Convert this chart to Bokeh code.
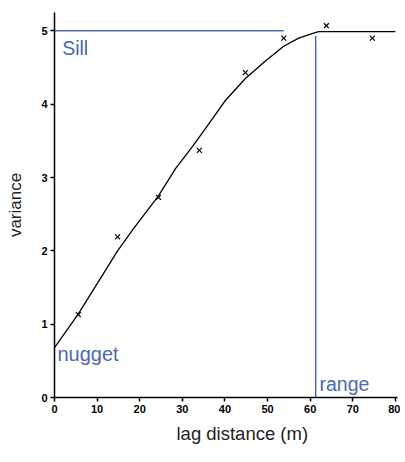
from bokeh.plotting import figure
from bokeh.models import Label, FixedTicker, Title
from bokeh.embed import file_html
from bokeh.resources import INLINE

# experimental semivariogram points
lag_pts = [5.6, 14.8, 24.4, 34.0, 44.8, 53.8, 63.8, 74.6]
var_pts = [1.13, 2.19, 2.73, 3.37, 4.43, 4.90, 5.07, 4.90]

# fitted model curve
model_lag = [0, 5.6, 14.8, 18.5, 24.4, 28.4, 32.5, 37.3, 40.1, 44.8, 49.5, 53.8, 57.3, 60.8, 62.0, 80.0]
model_var = [0.68, 1.14, 2.00, 2.30, 2.75, 3.12, 3.43, 3.82, 4.05, 4.35, 4.59, 4.79, 4.90, 4.97, 4.99, 4.99]

sill = 5.0
sill_end = 53.8
range_lag = 61.3
range_top = 4.93

x_ticks = [0, 10, 20, 30, 40, 50, 60, 70, 80]
y_ticks = [0, 1, 2, 3, 4, 5]

BLUE = "#4b67b8"

p = figure(width=400, height=454, x_range=(0, 80.5), y_range=(0, 5.25),
           output_backend="svg", toolbar_location=None,
           min_border_left=54, min_border_right=3, min_border_top=12, min_border_bottom=57)
p.grid.visible = False
p.outline_line_color = None
p.background_fill_color = "white"
p.border_fill_color = "white"

for ax, ticks in ((p.xaxis, x_ticks), (p.yaxis, y_ticks)):
    ax.ticker = FixedTicker(ticks=ticks)
    ax.axis_line_color = "black"
    ax.axis_line_width = 1.5
    ax.major_tick_line_color = "black"
    ax.major_tick_line_width = 1.5
    ax.major_tick_out = 4
    ax.major_tick_in = 0
    ax.minor_tick_line_color = None
    ax.major_label_text_font = "Liberation Sans"
    ax.major_label_text_font_style = "bold"
    ax.major_label_text_font_size = "11px"
    ax.major_label_text_color = "black"
    ax.major_label_standoff = 3

p.yaxis.axis_label = "variance"
p.yaxis.axis_label_text_font = "Liberation Sans"
p.yaxis.axis_label_text_font_style = "normal"
p.yaxis.axis_label_text_font_size = "17px"
p.yaxis.axis_label_text_color = "#222222"
p.yaxis.axis_label_standoff = 13

# x axis title (placed below the axis, shifted right like the reference)
p.add_layout(Title(text="lag distance (m)", align="left", offset=122,
                   text_font="Liberation Sans", text_font_style="normal",
                   text_font_size="18.5px", text_color="#222222", standoff=11), "below")

# sill and range lines
p.line([0, sill_end], [sill, sill], line_color=BLUE, line_width=1.5)
p.line([range_lag, range_lag], [0, range_top], line_color=BLUE, line_width=1.5)

# model curve
p.line(model_lag, model_var, line_color="black", line_width=1.3)

# experimental points
p.scatter(lag_pts, var_pts, marker="x", size=7, line_color="black", line_width=1.2)

# annotations
p.add_layout(Label(x=1.8, y=4.77, text="Sill", text_color=BLUE, text_font="Liberation Sans",
                   text_font_size="19.5px", text_baseline="middle"))
p.add_layout(Label(x=0.7, y=0.6, text="nugget", text_color=BLUE, text_font="Liberation Sans",
                   text_font_size="20px", text_baseline="middle"))
p.add_layout(Label(x=62.2, y=0.19, text="range", text_color=BLUE, text_font="Liberation Sans",
                   text_font_size="19.5px", text_baseline="middle"))

open("out.html", "w").write(file_html(p, INLINE))
